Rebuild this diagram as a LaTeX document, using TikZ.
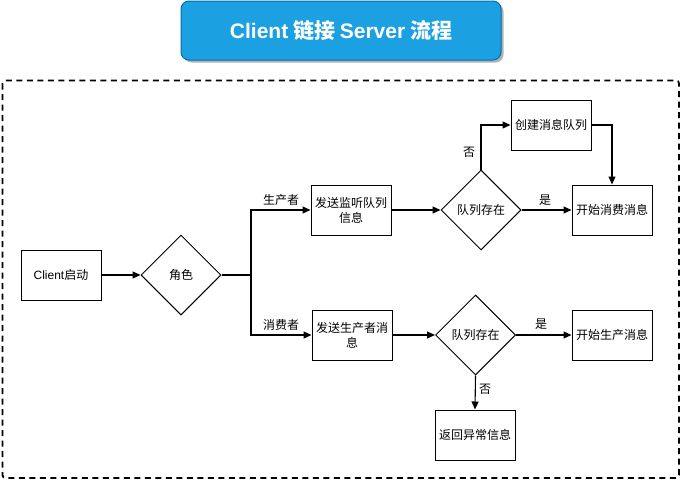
\documentclass[tikz,border=0pt]{standalone}
\usepackage{fontspec}
\newfontfamily\cjk{Noto Sans CJK SC}
\newfontfamily\lat{Liberation Sans}
\usetikzlibrary{shapes.geometric,arrows.meta,shadows}
\definecolor{titlefill}{HTML}{1BA1E2}
\definecolor{titledraw}{HTML}{006EAF}
\begin{document}
\begin{tikzpicture}[x=1pt,y=-1pt,
  every node/.style={font=\cjk\fontsize{12}{15}\selectfont},
  box/.style={draw, line width=1pt, minimum width=80pt, minimum height=50pt, inner sep=1pt, align=center, text width=78pt},
  dec/.style={draw, diamond, line width=1pt, minimum width=80pt, minimum height=80pt, inner sep=0pt, aspect=1},
  conn/.style={draw, line width=1.1pt, -{Triangle[length=8pt,width=7pt]}},
  plain/.style={draw, line width=1.1pt},
  lbl/.style={inner sep=1pt}]
\useasboundingbox (0,0) rectangle (682,482);
% title
\node[draw=titledraw, fill=titlefill, rounded corners=8pt, line width=1pt,
  minimum width=320pt, minimum height=59pt, text=white,
  drop shadow={shadow xshift=2.5pt, shadow yshift=-2.5pt, fill=black!30, opacity=1},
  font=\cjk\bfseries\fontsize{21}{24}\selectfont] (title) at (341,30.5) {{\lat\bfseries Client} 链接 {\lat\bfseries Server} 流程};
% dashed frame
\draw[line width=1.8pt, dash pattern=on 6pt off 4.5pt, rounded corners=3pt] (2.5,80.5) rectangle (679,478);
% nodes
\node[box] (start) at (61,275) {{\lat Client}启动};
\node[dec] (role) at (181,275) {角色};
\node[box] (send1) at (351,210) {发送监听队列\\信息};
\node[dec] (q1) at (481,210) {队列存在};
\node[box] (create) at (551,125) {创建消息队列};
\node[box] (consume) at (612,210) {开始消费消息};
\node[box] (send2) at (352,335) {发送生产者消\\息};
\node[dec] (q2) at (475.5,335) {队列存在};
\node[box] (produce) at (612,335) {开始生产消息};
\node[box] (err) at (475,435) {返回异常信息};
\coordinate (split) at (251,275);
% connectors
\draw[conn] (start) -- (role);
\draw[plain] (role.east) -- (split);
\draw[conn] (split) |- (send1.west);
\draw[conn] (split) |- (send2.west);
\node[lbl] (lp) at (281,200) {生产者};
\node[lbl] (lc) at (281,325) {消费者};
\draw[conn] (send1) -- (q1);
\draw[conn] (q1.east) -- (consume.west);
\node[lbl] (y1) at (545,200) {是};
\draw[conn] (q1.north) |- (create.west);
\node[lbl] (n1) at (469,152) {否};
\draw[conn] (create.east) -| (consume.north);
\draw[conn] (send2) -- (q2);
\draw[conn] (q2.east) -- (produce.west);
\node[lbl] (y2) at (541,324) {是};
\draw[conn] (q2.south) -- (err.north);
\node[lbl] (n2) at (485,389) {否};
\end{tikzpicture}
\end{document}
